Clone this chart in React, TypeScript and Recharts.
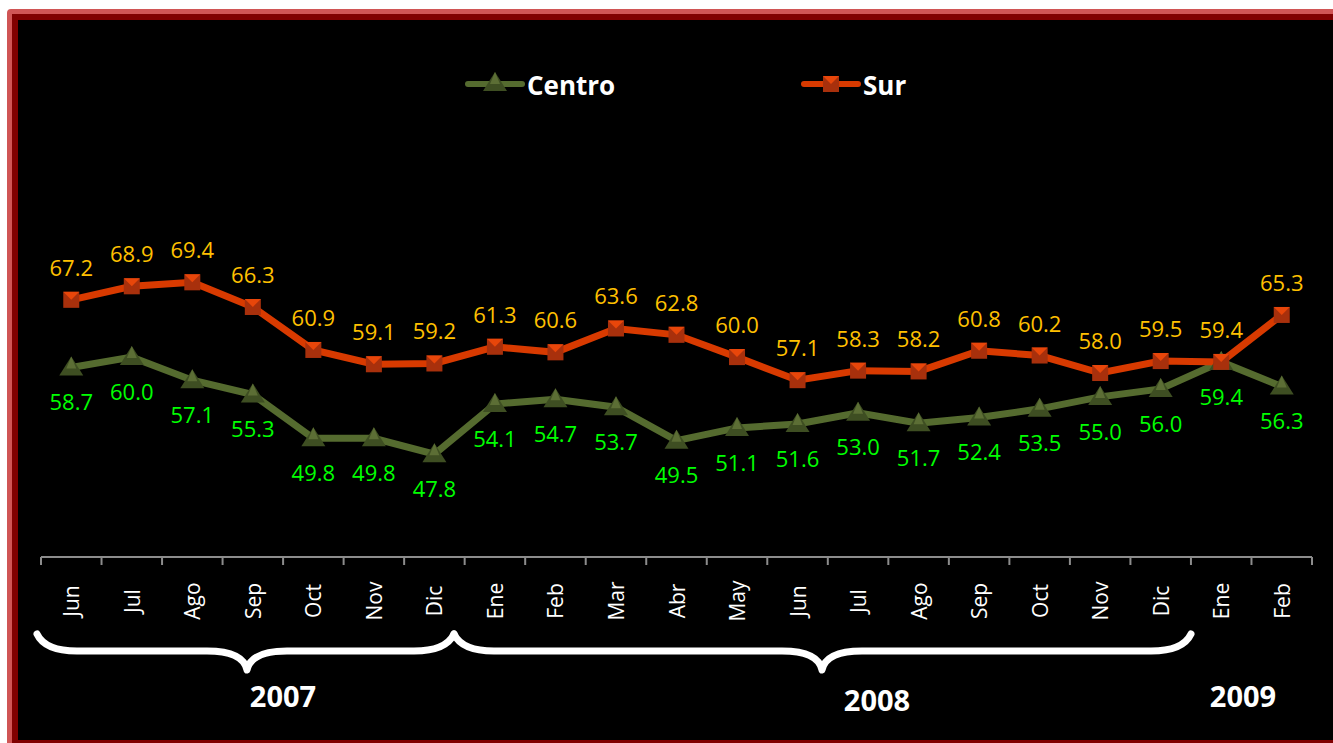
import { LabelList, Line, LineChart, XAxis, YAxis } from 'recharts';

const months = ['Jun', 'Jul', 'Ago', 'Sep', 'Oct', 'Nov', 'Dic', 'Ene', 'Feb', 'Mar', 'Abr', 'May', 'Jun', 'Jul', 'Ago', 'Sep', 'Oct', 'Nov', 'Dic', 'Ene', 'Feb'];
const centro = [58.7, 60.0, 57.1, 55.3, 49.8, 49.8, 47.8, 54.1, 54.7, 53.7, 49.5, 51.1, 51.6, 53.0, 51.7, 52.4, 53.5, 55.0, 56.0, 59.4, 56.3];
const sur = [67.2, 68.9, 69.4, 66.3, 60.9, 59.1, 59.2, 61.3, 60.6, 63.6, 62.8, 60.0, 57.1, 58.3, 58.2, 60.8, 60.2, 58.0, 59.5, 59.4, 65.3];
const years = [
  { label: '2007', x: 283, y: 695 },
  { label: '2008', x: 877, y: 699 },
  { label: '2009', x: 1243, y: 695 },
];

const data = months.map((m, i) => ({ i, month: m, centro: centro[i], sur: sur[i] }));
const edges = Array.from({ length: months.length + 1 }, (_, k) => k);

const FONT = '"Open Sans", "Noto Sans", sans-serif';
const OLIVE = '#556B2F';
const RED = '#D83A00';

function Tri({ cx, cy }: any) {
  if (cx == null || cy == null) return null;
  return (
    <g>
      <polygon points={`${cx},${cy - 11} ${cx + 12},${cy + 8} ${cx - 12},${cy + 8}`} fill="#3E4E22" />
      <polygon points={`${cx},${cy - 11} ${cx + 5},${cy + 1} ${cx - 5},${cy + 1}`} fill="#5C6E35" />
    </g>
  );
}

function Sq({ cx, cy }: any) {
  if (cx == null || cy == null) return null;
  return (
    <g>
      <rect x={cx - 8} y={cy - 8} width={16} height={16} fill="#A8300C" />
      <polygon points={`${cx - 8},${cy - 8} ${cx + 8},${cy - 8} ${cx},${cy}`} fill="#E8460A" />
    </g>
  );
}

function MonthTick({ x, y, payload }: any) {
  return (
    <text
      transform={`translate(${x},${y + 37}) rotate(-90)`}
      textAnchor="middle"
      dominantBaseline="central"
      fill="#fff"
      fontSize={21}
      fontFamily={FONT}
    >
      {months[payload.value]}
    </text>
  );
}

function NoLabel() {
  return <g />;
}

function brace(x1: number, x2: number, tip: number) {
  const top = 634;
  const bar = 651;
  const end = 670;
  return `M${x1},${top} Q${x1 + 8},${bar} ${x1 + 40},${bar} L${tip - 40},${bar} Q${tip - 4},${bar} ${tip},${end} Q${tip + 4},${bar} ${tip + 40},${bar} L${x2 - 40},${bar} Q${x2 - 8},${bar} ${x2},${top}`;
}

function LegendItem({ x, label, marker }: { x: number; label: string; marker: 'tri' | 'sq' }) {
  const color = marker === 'tri' ? OLIVE : RED;
  return (
    <g>
      <line x1={x} y1={84} x2={x + 54} y2={84} stroke={color} strokeWidth={6} strokeLinecap="round" />
      {marker === 'tri' ? <Tri cx={x + 27} cy={83} /> : <Sq cx={x + 27} cy={84} />}
      <text x={x + 59} y={85} dominantBaseline="central" fill="#fff" fontSize={26} fontWeight="bold" fontFamily={FONT}>
        {label}
      </text>
    </g>
  );
}

export default function App() {
  return (
    <div style={{ position: 'absolute', left: 0, top: 0, width: 1333, height: 743, background: '#fff', overflow: 'hidden' }}>
      <div
        style={{
          position: 'absolute',
          left: 7,
          top: 9,
          width: 1360,
          height: 742,
          border: '5px solid #D05555',
          borderRadius: 4,
          boxSizing: 'border-box',
        }}
      >
        <div style={{ width: '100%', height: '100%', border: '6px solid #800000', boxSizing: 'border-box', background: '#000' }} />
      </div>
      <div style={{ position: 'absolute', left: 0, top: 0, width: 1333, height: 736 }}>
        <LineChart width={1333} height={736} data={data} margin={{ top: 198, right: 21, bottom: 178, left: 41 }}>
          <XAxis
            xAxisId="edge"
            dataKey="i"
            type="number"
            domain={[0, months.length]}
            allowDataOverflow
            ticks={edges}
            tick={<NoLabel />}
            height={1}
            tickSize={8}
            stroke="#8C8C8C"
            strokeWidth={2}
          />
          <XAxis
            dataKey="i"
            scale="band"
            interval={0}
            axisLine={false}
            tickLine={false}
            height={1}
            tick={<MonthTick />}
          />
          <YAxis hide domain={[35, 80]} />
          <Line
            dataKey="centro"
            stroke={OLIVE}
            strokeWidth={7}
            dot={<Tri />}
            activeDot={false}
            isAnimationActive={false}
          >
            <LabelList
              dataKey="centro"
              position="bottom"
              offset={27}
              fill="#00FF00"
              fontSize={22}
              fontFamily={FONT}
              formatter={(v: any) => Number(v).toFixed(1)}
            />
          </Line>
          <Line
            dataKey="sur"
            stroke={RED}
            strokeWidth={7}
            dot={<Sq />}
            activeDot={false}
            isAnimationActive={false}
          >
            <LabelList
              dataKey="sur"
              position="top"
              offset={24}
              fill="#FFC000"
              fontSize={22}
              fontFamily={FONT}
              formatter={(v: any) => Number(v).toFixed(1)}
            />
          </Line>
        </LineChart>
      </div>
      <svg style={{ position: 'absolute', left: 0, top: 0 }} width={1333} height={743}>
        <LegendItem x={468} label="Centro" marker="tri" />
        <LegendItem x={804} label="Sur" marker="sq" />
        <path d={brace(37, 454, 247)} fill="none" stroke="#fff" strokeWidth={7} strokeLinecap="round" strokeLinejoin="round" />
        <path d={brace(454, 1191, 822)} fill="none" stroke="#fff" strokeWidth={7} strokeLinecap="round" strokeLinejoin="round" />
        {years.map((yr) => (
          <text key={yr.label} x={yr.x} y={yr.y} textAnchor="middle" dominantBaseline="central" fill="#fff" fontSize={29} fontWeight="bold" fontFamily={FONT}>
            {yr.label}
          </text>
        ))}
      </svg>
    </div>
  );
}
